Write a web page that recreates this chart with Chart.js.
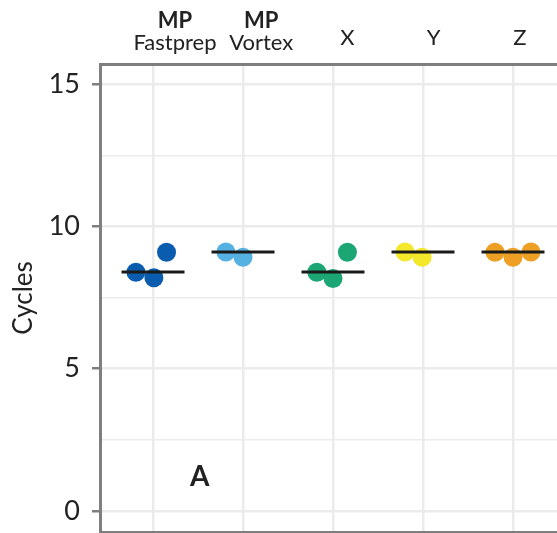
<!DOCTYPE html>
<html>
<head>
<meta charset="utf-8">
<script src="https://cdn.jsdelivr.net/npm/chart.js@4.4.1/dist/chart.umd.min.js"></script>
<style>
    html, body { margin: 0; padding: 0; background: #fff; }
    #wrap { width: 557px; height: 533px; overflow: hidden; }
</style>
</head>
<body>
<div id="wrap"><canvas id="myChart" width="557" height="533"></canvas></div>
<script>
// groups, top line is bold in the header
const groupTop = ['MP', 'MP', '', '', ''];
const groups = ['Fastprep', 'Vortex', 'X', 'Y', 'Z'];
const groupColors = ['#0a5cae', '#56b1e3', '#1ba674', '#f4e82a', '#eda024'];

// replicate values (cycles) and their horizontal jitter
const cycles = [
    [8.39, 8.2, 9.09],
    [9.1, 8.92],
    [8.39, 8.17, 9.09],
    [9.1, 8.92],
    [9.09, 8.92, 9.1]
];
const jitter = [
    [-0.19, 0.01, 0.15],
    [-0.19, 0.0],
    [-0.18, 0.0, 0.16],
    [-0.2, -0.01],
    [-0.2, 0.0, 0.2]
];
const medians = [8.4, 9.1, 8.4, 9.1, 9.1];

const yTicks = [0, 2.5, 5, 7.5, 10, 12.5, 15];
const xTicks = [1, 2, 3, 4, 5];

const FONT = 'Lato';
const axisGray = '#7f7f7f';
const gridGray = '#ebebeb';
const textColor = '#222222';

// scatter datasets, one per group
const pointSets = groups.map((g, i) => ({
    type: 'scatter',
    label: groupTop[i] ? groupTop[i] + ' ' + g : g,
    data: cycles[i].map((v, j) => ({ x: i + 1 + jitter[i][j], y: v })),
    backgroundColor: groupColors[i],
    borderWidth: 0,
    pointRadius: 9.5,
    pointHoverRadius: 9.5,
    order: 1
}));

// median segments
const medianData = [];
medians.forEach((m, i) => {
    medianData.push({ x: i + 1 - 0.35, y: m });
    medianData.push({ x: i + 1 + 0.35, y: m });
    medianData.push({ x: i + 1.5, y: null });
});

const medianSet = {
    type: 'line',
    label: 'median',
    data: medianData,
    borderColor: '#1a1a1a',
    borderWidth: 3,
    pointRadius: 0,
    spanGaps: false,
    order: 0
};

// header labels + the "A" tag
const labelPlugin = {
    id: 'labels',
    afterDraw(chart) {
        const ctx = chart.ctx;
        const xs = chart.scales.x;
        const ys = chart.scales.y;
        ctx.save();
        ctx.fillStyle = textColor;
        ctx.textAlign = 'center';
        ctx.textBaseline = 'alphabetic';
        groups.forEach((g, i) => {
            const px = xs.getPixelForValue(i + 1) + 22 - 3.8 * i;
            if (groupTop[i]) {
                ctx.font = `bold 22px ${FONT}`;
                ctx.fillText(groupTop[i], px, 28);
                ctx.font = `22px ${FONT}`;
                ctx.fillText(g, px, 50);
            } else {
                ctx.font = `22px ${FONT}`;
                ctx.fillText(g, px, 45);
            }
        });
        ctx.font = `bold 28px ${FONT}`;
        ctx.textBaseline = 'middle';
        ctx.fillText('A', xs.getPixelForValue(1.52), ys.getPixelForValue(1.2));
        ctx.restore();
    }
};

const isMajor = (v) => v % 5 === 0;

const config = {
    data: { datasets: [medianSet, ...pointSets] },
    options: {
        responsive: false,
        animation: false,
        layout: { padding: 0, autoPadding: false },
        events: [],
        scales: {
            x: {
                type: 'linear',
                position: 'top',
                min: 0.411,
                max: 5.489,
                afterBuildTicks: (scale) => { scale.ticks = xTicks.map(v => ({ value: v })); },
                afterFit: (scale) => { scale.height = 64; scale.paddingLeft = 0; scale.paddingRight = 0; },
                ticks: { display: false },
                grid: { color: gridGray, lineWidth: 2.5, drawTicks: false },
                border: { display: true, color: axisGray, width: 3 }
            },
            x2: {
                type: 'linear',
                position: 'bottom',
                min: 0.411,
                max: 5.489,
                afterFit: (scale) => { scale.height = 1; scale.paddingLeft = 0; scale.paddingRight = 0; },
                ticks: { display: false },
                grid: { display: false, drawTicks: false },
                border: { display: true, color: axisGray, width: 3 }
            },
            y: {
                type: 'linear',
                min: -0.74,
                max: 15.71,
                afterBuildTicks: (scale) => { scale.ticks = yTicks.map(v => ({ value: v })); },
                afterFit: (scale) => { scale.width = 100; scale.paddingTop = 0; scale.paddingBottom = 0; },
                ticks: {
                    color: textColor,
                    padding: 12,
                    font: { family: FONT, size: 27 },
                    callback: (v) => isMajor(v) ? String(v) : ''
                },
                grid: {
                    color: gridGray,
                    lineWidth: (c) => isMajor(c.tick.value) ? 2.5 : 1.4,
                    tickLength: 8,
                    tickColor: (c) => isMajor(c.tick.value) ? axisGray : 'rgba(0,0,0,0)',
                    tickWidth: 2.5
                },
                border: { display: true, color: axisGray, width: 3 },
                title: {
                    display: true,
                    text: 'Cycles',
                    color: textColor,
                    padding: { top: 8, bottom: 0 },
                    font: { family: FONT, size: 26 }
                }
            }
        },
        plugins: {
            legend: { display: false },
            tooltip: { enabled: false }
        }
    },
    plugins: [labelPlugin]
};

const myChart = new Chart(document.getElementById('myChart').getContext('2d'), config);
</script>
</body>
</html>
